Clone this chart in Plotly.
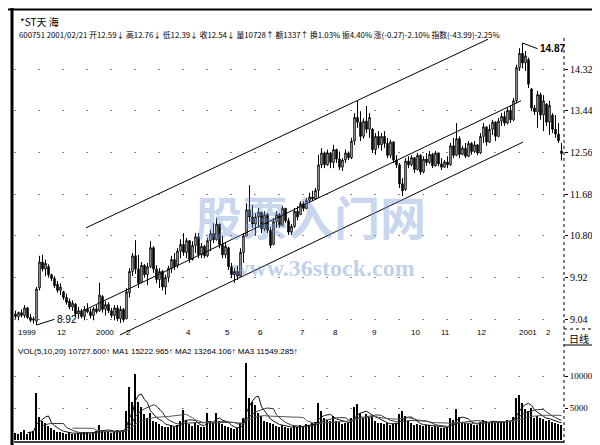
import plotly.graph_objects as go
import pandas as pd

W, H = 600, 445

# ---------------- data ----------------
open_ = [9.15, 9.10, 9.18, 9.12, 9.28, 9.08, 9.02, 9.00, 9.70, 10.25,
         10.10, 10.15, 9.98, 9.90, 9.78, 9.65, 9.62, 9.50, 9.42, 9.30,
         9.36, 9.15, 9.22, 9.10, 9.25, 9.20, 9.12, 9.26, 9.22, 9.52,
         9.25, 9.35, 9.22, 9.12, 9.28, 9.05, 9.25, 9.05, 9.60, 10.05,
         10.38, 10.10, 9.82, 10.18, 9.98, 10.15, 10.55, 10.10, 9.88, 10.05,
         9.72, 9.92, 10.12, 10.30, 10.18, 10.48, 10.62, 10.45, 10.70, 10.30,
         10.60, 10.78, 10.40, 10.58, 10.38, 10.70, 10.85, 10.72, 11.05, 10.62,
         10.40, 10.55, 10.15, 9.98, 10.05, 9.95, 10.45, 10.80, 11.35, 11.20,
         11.05, 11.20, 11.30, 10.95, 11.25, 10.92, 10.62, 11.10, 11.25, 11.02,
         11.38, 11.12, 10.88, 11.00, 11.32, 11.25, 11.48, 11.38, 11.55, 11.62,
         11.58, 11.76, 12.30, 12.55, 12.30, 12.55, 12.35, 12.62, 12.42, 12.25,
         12.40, 12.55, 12.45, 12.80, 13.30, 13.20, 12.90, 13.22, 13.05, 13.05,
         12.62, 12.90, 12.72, 12.90, 12.75, 12.50, 12.78, 12.40, 12.30, 11.90,
         11.78, 12.38, 12.30, 12.45, 12.20, 12.50, 12.15, 12.42, 12.35, 12.52,
         12.28, 12.55, 12.32, 12.25, 12.36, 12.30, 12.70, 12.50, 12.85, 12.52,
         12.65, 12.48, 12.75, 12.58, 12.72, 12.55, 12.90, 13.10, 12.78, 13.05,
         13.20, 12.90, 13.22, 13.32, 13.18, 13.45, 13.25, 13.65, 14.35, 14.65,
         14.45, 14.52, 13.90, 13.50, 13.42, 13.78, 13.35, 13.58, 13.20, 13.35,
         13.05, 12.95, 12.59]
high = [9.22, 9.20, 9.25, 9.34, 9.30, 9.15, 9.10, 9.72, 10.38, 10.40,
        10.30, 10.20, 10.00, 9.95, 9.85, 9.80, 9.64, 9.58, 9.48, 9.44,
        9.38, 9.30, 9.26, 9.32, 9.38, 9.27, 9.30, 9.34, 9.81, 9.55,
        9.42, 9.40, 9.28, 9.34, 9.34, 9.32, 9.28, 9.70, 10.12, 10.44,
        10.71, 10.40, 10.25, 10.20, 10.23, 10.69, 10.58, 10.18, 10.12, 10.08,
        9.98, 10.17, 10.38, 10.44, 10.54, 10.73, 10.86, 10.76, 10.70, 10.69,
        10.86, 10.86, 10.65, 10.61, 10.76, 10.93, 11.07, 11.18, 11.05, 10.80,
        10.65, 10.57, 10.23, 10.12, 10.17, 10.54, 10.86, 11.49, 11.87, 11.45,
        11.28, 11.39, 11.30, 11.32, 11.28, 10.99, 11.18, 11.32, 11.28, 11.43,
        11.39, 11.18, 11.05, 11.39, 11.43, 11.53, 11.53, 11.60, 11.71, 11.75,
        11.81, 12.51, 12.65, 12.58, 12.62, 12.57, 12.72, 12.64, 12.58, 12.44,
        12.62, 12.58, 12.87, 13.39, 13.65, 13.43, 13.28, 13.54, 13.39, 13.08,
        12.97, 13.01, 12.97, 13.01, 12.87, 12.83, 12.80, 12.50, 12.34, 12.02,
        12.44, 12.48, 12.50, 12.46, 12.55, 12.52, 12.48, 12.55, 12.59, 12.55,
        12.59, 12.56, 12.44, 12.40, 12.48, 12.76, 12.87, 13.18, 12.90, 12.70,
        12.76, 12.80, 12.78, 12.80, 12.74, 12.97, 13.18, 13.12, 13.15, 13.25,
        13.22, 13.29, 13.39, 13.43, 13.50, 13.56, 13.71, 14.41, 14.76, 14.87,
        14.70, 14.56, 13.92, 13.56, 13.86, 13.82, 13.77, 13.60, 13.65, 13.39,
        13.35, 13.18, 12.76]
low = [9.05, 9.02, 9.08, 9.07, 9.05, 8.98, 8.95, 8.92, 9.65, 10.05,
       9.95, 9.92, 9.85, 9.70, 9.60, 9.55, 9.45, 9.35, 9.25, 9.22,
       9.10, 9.05, 9.06, 9.02, 9.17, 9.06, 9.02, 9.16, 9.20, 9.18,
       9.12, 9.17, 9.07, 9.02, 9.00, 8.96, 8.98, 9.05, 9.50, 9.95,
       10.00, 9.70, 9.80, 9.92, 9.76, 10.12, 10.02, 9.80, 9.70, 9.65,
       9.56, 9.82, 10.02, 10.08, 10.12, 10.33, 10.38, 10.33, 10.23, 10.28,
       10.44, 10.33, 10.33, 10.33, 10.35, 10.48, 10.65, 10.70, 10.54, 10.33,
       10.33, 10.08, 9.91, 9.81, 9.87, 9.95, 10.23, 10.78, 11.10, 10.97,
       10.82, 10.97, 10.86, 10.90, 10.86, 10.54, 10.60, 10.97, 10.97, 11.00,
       11.07, 10.82, 10.82, 10.97, 11.13, 11.24, 11.32, 11.36, 11.49, 11.54,
       11.56, 11.60, 12.23, 12.23, 12.28, 12.23, 12.23, 12.34, 12.19, 12.17,
       12.34, 12.40, 12.42, 12.72, 13.08, 12.80, 12.85, 12.97, 12.87, 12.55,
       12.51, 12.65, 12.60, 12.66, 12.44, 12.44, 12.34, 12.23, 11.81, 11.64,
       11.75, 12.23, 12.27, 12.13, 12.18, 12.09, 12.12, 12.28, 12.32, 12.23,
       12.26, 12.27, 12.19, 12.23, 12.23, 12.28, 12.44, 12.48, 12.44, 12.50,
       12.44, 12.46, 12.51, 12.55, 12.50, 12.53, 12.76, 12.70, 12.76, 12.93,
       12.80, 12.88, 13.12, 13.12, 13.15, 13.18, 13.22, 13.60, 14.28, 14.34,
       14.28, 13.92, 13.43, 13.35, 13.08, 13.25, 13.01, 13.12, 12.93, 12.97,
       12.87, 12.76, 12.39]
close = [9.10, 9.18, 9.12, 9.28, 9.08, 9.02, 9.05, 9.68, 10.25, 10.10,
         10.22, 9.98, 9.90, 9.75, 9.65, 9.72, 9.50, 9.40, 9.30, 9.38,
         9.15, 9.22, 9.10, 9.25, 9.20, 9.12, 9.26, 9.20, 9.55, 9.25,
         9.35, 9.22, 9.12, 9.28, 9.05, 9.25, 9.03, 9.62, 10.05, 10.38,
         10.10, 9.80, 10.18, 9.98, 10.15, 10.55, 10.10, 9.88, 10.05, 9.72,
         9.92, 10.12, 10.30, 10.15, 10.48, 10.62, 10.45, 10.70, 10.30, 10.60,
         10.78, 10.40, 10.58, 10.38, 10.70, 10.85, 10.72, 11.05, 10.62, 10.40,
         10.58, 10.15, 9.98, 10.05, 9.95, 10.45, 10.80, 11.35, 11.20, 11.05,
         11.20, 11.30, 10.95, 11.25, 10.92, 10.60, 11.10, 11.25, 11.02, 11.38,
         11.12, 10.88, 11.00, 11.32, 11.20, 11.48, 11.38, 11.55, 11.62, 11.58,
         11.76, 12.30, 12.55, 12.30, 12.55, 12.35, 12.62, 12.42, 12.25, 12.40,
         12.55, 12.45, 12.80, 13.30, 13.20, 12.90, 13.22, 13.05, 13.30, 12.62,
         12.90, 12.72, 12.90, 12.75, 12.50, 12.78, 12.40, 12.30, 11.90, 11.75,
         12.38, 12.30, 12.45, 12.20, 12.50, 12.15, 12.42, 12.35, 12.52, 12.28,
         12.55, 12.32, 12.25, 12.36, 12.30, 12.70, 12.50, 12.85, 12.52, 12.65,
         12.48, 12.75, 12.58, 12.72, 12.55, 12.90, 13.10, 12.78, 13.05, 13.20,
         12.90, 13.22, 13.32, 13.18, 13.45, 13.25, 13.65, 14.35, 14.65, 14.45,
         14.60, 14.00, 13.50, 13.42, 13.78, 13.35, 13.65, 13.20, 13.55, 13.05,
         12.95, 12.81, 12.54]
volume = [1100, 900, 1300, 1500, 1000, 1200, 1400,
          7300, 3600, 3000,
          2700, 2200, 1800, 1500, 1300, 1200, 1100, 1000, 1200, 900,
          1000, 1100, 900, 1200, 1300, 1000, 1100, 1400, 2300, 1600,
          1300, 1200, 1100, 1400, 1500, 1300, 1600, 4500, 8300, 6000,
          10300, 6000, 5200, 4000, 3500, 4200, 3000, 2800, 2500, 2200,
          2000, 2100, 2300, 2000, 2400, 3000, 4700, 3200, 2500, 2200,
          2600, 2400, 2000, 2100, 4200, 3000, 2800, 4200, 3000, 2500,
          2200, 2000, 1800, 1700, 1900, 2600, 3500, 12000, 6500, 6000,
          5500, 4200, 3800, 3000, 2800, 2600, 2500, 2200, 2000, 2300,
          2100, 1900, 1800, 2200, 2000, 2400, 2200, 2500, 2300, 2600,
          2800, 5800, 4500, 3500, 3200, 3000, 3800, 3000, 2800, 2500,
          2700, 2600, 3500, 5200, 5600, 4200, 3500, 4000, 3600, 3800,
          3000, 2700, 2600, 2500, 2600, 2400, 2500, 2600, 4000, 4500,
          3800, 3000, 2600, 2400, 2500, 2300, 2200, 2400, 2300, 2100,
          2200, 2000, 1900, 1800, 2000, 3500, 3200, 4800, 3600, 2800,
          2600, 2700, 2500, 2400, 2300, 2800, 3200, 2900, 2700, 3000,
          2600, 2800, 3000, 2800, 3100, 3000, 3600, 6500, 7000, 5800,
          4800, 4500, 5000, 3500, 3800, 3400, 3300, 3000, 3200, 2800,
          2600, 2500, 2400]

# month marks (candle index where each month label starts) and their text
month_idx = [0, 13, 26, 36, 56, 69, 80, 94, 105, 118, 131, 141, 153, 167, 176]
month_lbl = ["1999", "12", "2000", "2", "4", "5", "6", "7", "8", "9",
             "10", "11", "12", "2001", "2"]

price_ticks = [9.04, 9.92, 10.80, 11.68, 12.56, 13.44, 14.32]
vol_ticks = [5000, 10000]
vol_ma_periods = [5, 10, 20]

# hand-drawn price channel (start index, start price, end index, end price)
chan_i0 = [23.5, 23.2, 34.8]
chan_p0 = [10.97, 9.24, 8.71]
chan_i1 = [157.5, 168.5, 169.2]
chan_p1 = [14.95, 13.65, 12.78]

stock_name = "*ST天 海"
info_line = ("600751 2001/02/21 开12.59↓ 高12.76↓ 低12.39↓ 收12.54↓ 量10728↑ 额1337↑ "
             "换1.03% 振4.40% 涨(-0.27)-2.10% 指数(-43.99)-2.25%")
vol_line = "VOL(5,10,20) 10727.600↑ MA1 15222.965↑ MA2 13264.106↑ MA3 11549.285↑"

# ---------------- figure ----------------
idx = list(range(len(close)))

def px(x):
    return x / W

def py(y):
    return 1 - y / H

X0, X1 = 6, 556
XR = [-0.5, -0.5 + (X1 - X0) / 3.0]
PT, PB = 30, 330
VT, VB = 350, 432

fig = go.Figure()

fig.add_trace(go.Candlestick(
    x=idx, open=open_, high=high, low=low, close=close,
    increasing=dict(line=dict(color="black", width=1), fillcolor="white"),
    decreasing=dict(line=dict(color="black", width=1), fillcolor="black"),
    whiskerwidth=0, showlegend=False, hoverinfo="skip",
    xaxis="x", yaxis="y"))

for a0, b0, a1, b1 in zip(chan_i0, chan_p0, chan_i1, chan_p1):
    fig.add_trace(go.Scatter(x=[a0, a1], y=[b0, b1], mode="lines",
                             line=dict(color="black", width=1),
                             showlegend=False, hoverinfo="skip",
                             xaxis="x", yaxis="y"))

fig.add_trace(go.Bar(x=idx, y=volume, width=0.5,
                     marker=dict(color="black", line=dict(width=0)),
                     showlegend=False, hoverinfo="skip",
                     xaxis="x2", yaxis="y2"))

vs = pd.Series(volume, dtype=float)
for per, col in zip(vol_ma_periods, ["#111111", "#333333", "#555555"]):
    fig.add_trace(go.Scatter(x=idx, y=vs.rolling(per).mean(), mode="lines",
                             line=dict(color=col, width=1),
                             showlegend=False, hoverinfo="skip",
                             xaxis="x2", yaxis="y2"))

grid = dict(showgrid=True, gridcolor="#8a8a8a", gridwidth=1, griddash="2px,22px")

fig.update_layout(
    width=W, height=H, margin=dict(l=0, r=0, t=0, b=0),
    paper_bgcolor="white", plot_bgcolor="white",
    font=dict(family="Noto Sans CJK SC, DejaVu Sans, sans-serif", color="black", size=10),
    bargap=0,
    xaxis=dict(domain=[px(X0), px(X1)], range=XR, anchor="y",
               showticklabels=False, showgrid=False, zeroline=False,
               rangeslider=dict(visible=False), fixedrange=True),
    yaxis=dict(domain=[py(PB), py(PT)],
               range=[14.87 - 0.0211 * (PB - 35), 14.87 + 0.0211 * (35 - PT)],
               side="right", anchor="x", tickvals=price_ticks,
               ticktext=["%.2f" % v for v in price_ticks],
               ticks="outside", ticklen=3, tickcolor="black",
               tickfont=dict(family="Liberation Serif, serif", size=10),
               zeroline=False, **grid),
    xaxis2=dict(domain=[px(X0), px(X1)], range=XR, anchor="y2",
                showticklabels=False, showgrid=False, zeroline=False),
    yaxis2=dict(domain=[py(VB), py(VT)], range=[0, (VB - VT) * 156.25],
                side="right", anchor="x2", tickvals=vol_ticks,
                ticktext=[str(v) for v in vol_ticks],
                ticks="outside", ticklen=3, tickcolor="black",
                tickfont=dict(family="Liberation Serif, serif", size=9),
                zeroline=False, **grid),
)

ann = []
ann.append(dict(x=px(10), y=py(14), xref="paper", yref="paper", text=stock_name,
                showarrow=False, xanchor="left", yanchor="middle",
                font=dict(size=10)))
ann.append(dict(x=px(9), y=py(26), xref="paper", yref="paper", text=info_line,
                showarrow=False, xanchor="left", yanchor="middle",
                font=dict(size=7.8)))
ann.append(dict(x=px(8), y=py(343), xref="paper", yref="paper", text=vol_line,
                showarrow=False, xanchor="left", yanchor="middle",
                font=dict(family="Liberation Sans, sans-serif", size=8)))
for mi, ml in zip(month_idx, month_lbl):
    ann.append(dict(x=mi, y=py(324), xref="x", yref="paper", text=ml,
                    showarrow=False, xanchor="left", yanchor="middle",
                    font=dict(family="Liberation Sans, sans-serif", size=8)))
ann.append(dict(x=px(571), y=py(330), xref="paper", yref="paper", text="日线",
                showarrow=False, xanchor="center", yanchor="middle",
                font=dict(size=10)))
# high / low marks
hi_i = high.index(max(high))
lo_i = low.index(min(low))
ann.append(dict(x=hi_i, y=max(high), xref="x", yref="y", text="<b>%.2f</b>" % max(high),
                showarrow=True, arrowhead=0, arrowwidth=1, arrowcolor="black",
                ax=hi_i + 5, ay=max(high) - 0.12, axref="x", ayref="y",
                xanchor="left", yanchor="middle", standoff=0,
                font=dict(family="Liberation Sans, sans-serif", size=10)))
ann.append(dict(x=lo_i, y=min(low), xref="x", yref="y", text="%.2f" % min(low),
                showarrow=True, arrowhead=0, arrowwidth=1, arrowcolor="black",
                ax=lo_i + 6, ay=min(low) + 0.12, axref="x", ayref="y",
                xanchor="left", yanchor="middle", standoff=0,
                font=dict(family="Liberation Sans, sans-serif", size=10)))
# watermark
ann.append(dict(x=px(303), y=py(207), xref="paper", yref="paper", text="<b>股票入门网</b>",
                showarrow=False, xanchor="center", yanchor="middle",
                font=dict(size=46, color="rgba(110,150,210,0.40)")))
ann.append(dict(x=px(315), y=py(260), xref="paper", yref="paper", text="<b>www.36stock.com</b>",
                showarrow=False, xanchor="center", yanchor="middle",
                font=dict(family="Liberation Serif, serif", size=24,
                          color="rgba(110,150,210,0.45)")))
fig.update_layout(annotations=ann)

shapes = []
def line(x0, y0, x1, y1, w=1, dash="solid"):
    shapes.append(dict(type="line", xref="paper", yref="paper",
                       x0=px(x0), y0=py(y0), x1=px(x1), y1=py(y1),
                       line=dict(color="black", width=w, dash=dash)))
line(4, 0, 4, 445, 3)
line(0, 1.5, 600, 1.5, 2)
line(590, 0, 590, 445, 4)
line(556, 30, 556, 436, 1, "dot")
line(556, 337, 590, 337, 1)
line(556, 321, 590, 321, 1, "dot")
line(6, 434, 556, 434, 1.5)
line(0, 440, 600, 440, 2)
fig.update_layout(shapes=shapes)

fig.write_html("out.html")
